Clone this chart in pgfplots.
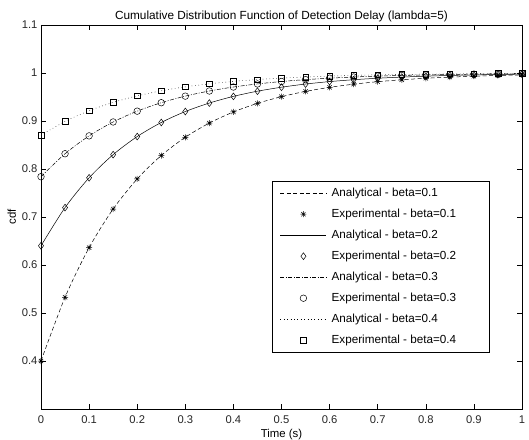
\documentclass[border=0pt]{standalone}
\usepackage{pgfplots}
\pgfplotsset{compat=1.18}
\usepackage{fontspec}
\setmainfont{Liberation Sans}

% asterisk made of a plus and a cross, eight spokes
\pgfdeclareplotmark{star8}{%
  \pgfpathmoveto{\pgfqpoint{0pt}{\pgfplotmarksize}}%
  \pgfpathlineto{\pgfqpoint{0pt}{-\pgfplotmarksize}}%
  \pgfpathmoveto{\pgfqpoint{\pgfplotmarksize}{0pt}}%
  \pgfpathlineto{\pgfqpoint{-\pgfplotmarksize}{0pt}}%
  \pgfpathmoveto{\pgfqpoint{0.707\pgfplotmarksize}{0.707\pgfplotmarksize}}%
  \pgfpathlineto{\pgfqpoint{-0.707\pgfplotmarksize}{-0.707\pgfplotmarksize}}%
  \pgfpathmoveto{\pgfqpoint{0.707\pgfplotmarksize}{-0.707\pgfplotmarksize}}%
  \pgfpathlineto{\pgfqpoint{-0.707\pgfplotmarksize}{0.707\pgfplotmarksize}}%
  \pgfusepathqstroke}

\pgfplotsset{
  lineleg/.style={legend image code/.code={\draw[##1] (0pt,0pt) -- (46pt,0pt);}},
  markleg/.style={legend image code/.code={\draw[##1] plot coordinates {(23pt,0pt)};}},
}

% legend text with a small gap after the sample and a fixed width
\newcommand{\entry}[1]{\hbox to 152pt{\hskip3.5pt #1\hfil}}

\pgfplotstableread{
t     b1      b2      b3      b4
0.00  0.4000  0.6400  0.7840  0.8704
0.05  0.5327  0.7196  0.8318  0.8991
0.10  0.6361  0.7817  0.8690  0.9214
0.15  0.7166  0.8299  0.8980  0.9388
0.20  0.7793  0.8676  0.9205  0.9523
0.25  0.8281  0.8969  0.9381  0.9629
0.30  0.8661  0.9197  0.9518  0.9711
0.35  0.8957  0.9374  0.9625  0.9775
0.40  0.9188  0.9513  0.9708  0.9825
0.45  0.9368  0.9621  0.9772  0.9863
0.50  0.9507  0.9704  0.9823  0.9894
0.55  0.9617  0.9770  0.9862  0.9917
0.60  0.9701  0.9821  0.9892  0.9935
0.65  0.9767  0.9860  0.9916  0.9950
0.70  0.9819  0.9891  0.9935  0.9961
0.75  0.9859  0.9915  0.9949  0.9970
0.80  0.9890  0.9934  0.9960  0.9976
0.85  0.9914  0.9949  0.9969  0.9981
0.90  0.9933  0.9960  0.9976  0.9986
0.95  0.9948  0.9969  0.9981  0.9989
1.00  0.9960  0.9976  0.9986  0.9991
}\cdf

\begin{document}
\begin{tikzpicture}
\useasboundingbox (-41pt,-30pt) rectangle (488pt,409pt);
\begin{axis}[
  at={(0,0)}, anchor=south west,
  scale only axis,
  width=481pt, height=384pt,
  xmin=0, xmax=1, ymin=0.3, ymax=1.1,
  xtick={0,0.1,0.2,0.3,0.4,0.5,0.6,0.7,0.8,0.9,1},
  ytick={0.4,0.5,0.6,0.7,0.8,0.9,1,1.1},
  tick align=inside,
  major tick length=5pt,
  xtick pos=both, ytick pos=both,
  axis line style={line width=0.8pt},
  every tick/.style={line width=0.6pt, black},
  /pgf/number format/assume math mode=true,
  /pgf/number format/fixed,
  /pgf/number format/precision=1,
  tick label style={font=\fontsize{11.2}{13}\selectfont, text=black!85},
  xticklabel style={yshift=-3pt},
  label style={font=\fontsize{11.4}{13}\selectfont},
  title style={font=\fontsize{11.8}{13}\selectfont, yshift=-6.5pt},
  title={Cumulative Distribution Function of Detection Delay (lambda=5)},
  xlabel={Time (s)},
  ylabel={cdf},
  xlabel style={yshift=1.5pt},
  ylabel style={yshift=-1pt},
  legend cell align=left,
  legend style={
    at={(0.48,0.594)}, anchor=north west,
    draw=black, line width=0.6pt,
    font=\fontsize{11.7}{13}\selectfont,
    inner xsep=8pt, inner ysep=5pt,
    row sep=7pt,
    nodes={inner sep=1.5pt, text height=8.5pt, text depth=2.5pt},
  },
]
% beta = 0.1
\addplot[black, line width=0.5pt, dash pattern=on 4pt off 2.5pt, smooth, lineleg]
  table[x=t, y=b1] {\cdf};
\addlegendentry{\entry{Analytical - beta=0.1}}
\addplot[black, only marks, mark=star8, mark size=3pt, line width=0.5pt, markleg]
  table[x=t, y=b1] {\cdf};
\addlegendentry{\entry{Experimental - beta=0.1}}
% beta = 0.2
\addplot[black, line width=0.5pt, solid, smooth, lineleg]
  table[x=t, y=b2] {\cdf};
\addlegendentry{\entry{Analytical - beta=0.2}}
\addplot[black, only marks, mark=diamond, mark size=3.4pt, line width=0.5pt, markleg]
  table[x=t, y=b2] {\cdf};
\addlegendentry{\entry{Experimental - beta=0.2}}
% beta = 0.3
\addplot[black, line width=0.5pt, dash pattern=on 4pt off 1.5pt on 1pt off 1.5pt, smooth, lineleg]
  table[x=t, y=b3] {\cdf};
\addlegendentry{\entry{Analytical - beta=0.3}}
\addplot[black, only marks, mark=o, mark size=3.3pt, line width=0.5pt, markleg]
  table[x=t, y=b3] {\cdf};
\addlegendentry{\entry{Experimental - beta=0.3}}
% beta = 0.4
\addplot[black, line width=0.5pt, dash pattern=on 0.6pt off 2.8pt, smooth, lineleg]
  table[x=t, y=b4] {\cdf};
\addlegendentry{\entry{Analytical - beta=0.4}}
\addplot[black, only marks, mark=square, mark size=2.8pt, line width=0.5pt, markleg]
  table[x=t, y=b4] {\cdf};
\addlegendentry{\entry{Experimental - beta=0.4}}
\end{axis}
\end{tikzpicture}
\end{document}
